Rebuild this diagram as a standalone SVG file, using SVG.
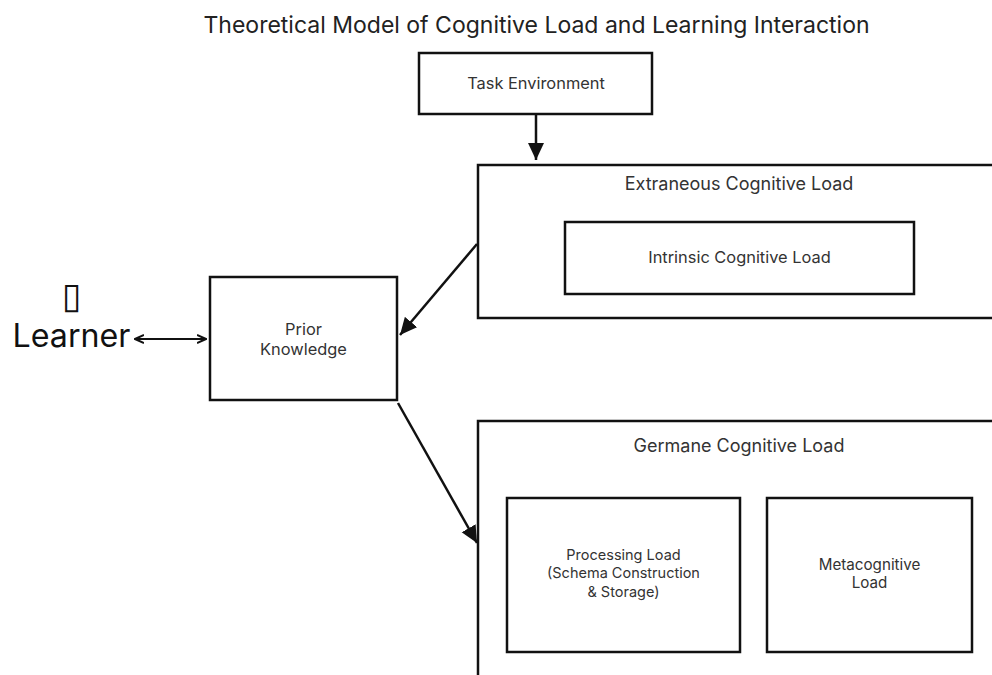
<svg xmlns="http://www.w3.org/2000/svg" width="992" height="675" viewBox="0 0 992 675">
<defs>
<style>
.box{fill:#fff;stroke:#111;stroke-width:2.5}
.t{font-family:Inter,"Open Sans","Liberation Sans",sans-serif;fill:#333;text-anchor:middle}
.s{font-size:14.5px}
.l{font-size:16.4px}
.m{font-size:18px}
.edge{stroke:#111;stroke-width:2.5;fill:none}
.thin{stroke:#111;stroke-width:2;fill:none}
</style>
<marker id="ah" markerUnits="userSpaceOnUse" markerWidth="18" markerHeight="18" viewBox="0 0 18 18" refX="17" refY="9" orient="auto">
<path d="M0,1 L17,9 L0,17 Z" fill="#111"/>
</marker>
<marker id="sh" markerUnits="userSpaceOnUse" markerWidth="10" markerHeight="10" viewBox="0 0 10 10" refX="9" refY="5" orient="auto-start-reverse">
<path d="M0,1 L9,5 L0,9" fill="none" stroke="#111" stroke-width="2"/>
</marker>
</defs>
<rect width="992" height="675" fill="#fff"/>
<text class="t" x="536.5" y="33" font-size="23" style="fill:#222">Theoretical Model of Cognitive Load and Learning Interaction</text>

<g id="task-environment">
<rect class="box" x="419" y="53" width="233" height="61"/>
<text class="t l" x="536" y="89">Task Environment</text>
</g>

<g id="extraneous-load">
<rect class="box" x="478" y="165" width="524" height="153"/>
<text class="t m" x="739" y="190">Extraneous Cognitive Load</text>
</g>

<g id="intrinsic-load">
<rect class="box" x="565" y="222" width="349" height="72"/>
<text class="t l" x="739.5" y="263">Intrinsic Cognitive Load</text>
</g>

<g id="learner">
<text x="72" y="308" font-family="DejaVu Sans,sans-serif" font-size="36" fill="#111" text-anchor="middle">▯</text>
<text class="t" x="71.5" y="347" font-size="32.2" style="fill:#111">Learner</text>
</g>

<g id="prior-knowledge">
<rect class="box" x="210" y="277" width="187" height="123"/>
<text class="t l" x="303.5" y="335">Prior</text>
<text class="t l" x="303.5" y="355">Knowledge</text>
</g>

<g id="germane-load">
<rect class="box" x="478" y="421" width="524" height="270"/>
<text class="t m" x="739" y="452">Germane Cognitive Load</text>
</g>

<g id="processing-load">
<rect class="box" x="507" y="498" width="233" height="154"/>
<text class="t s" x="623.5" y="560">Processing Load</text>
<text class="t s" x="623.5" y="578">(Schema Construction</text>
<text class="t s" x="623.5" y="597">&amp; Storage)</text>
</g>

<g id="metacognitive-load">
<rect class="box" x="767" y="498" width="205" height="154"/>
<text class="t" x="869.5" y="570" font-size="15.2">Metacognitive</text>
<text class="t" x="869.5" y="588" font-size="15.2">Load</text>
</g>

<g id="connectors">
<line class="edge" x1="536" y1="115" x2="536" y2="160" marker-end="url(#ah)"/>
<line class="edge" x1="477" y1="244" x2="400" y2="335" marker-end="url(#ah)"/>
<line class="edge" x1="398" y1="403" x2="477" y2="543" marker-end="url(#ah)"/>
<line class="thin" x1="135" y1="339" x2="206" y2="339" marker-start="url(#sh)" marker-end="url(#sh)"/>
</g>
</svg>
